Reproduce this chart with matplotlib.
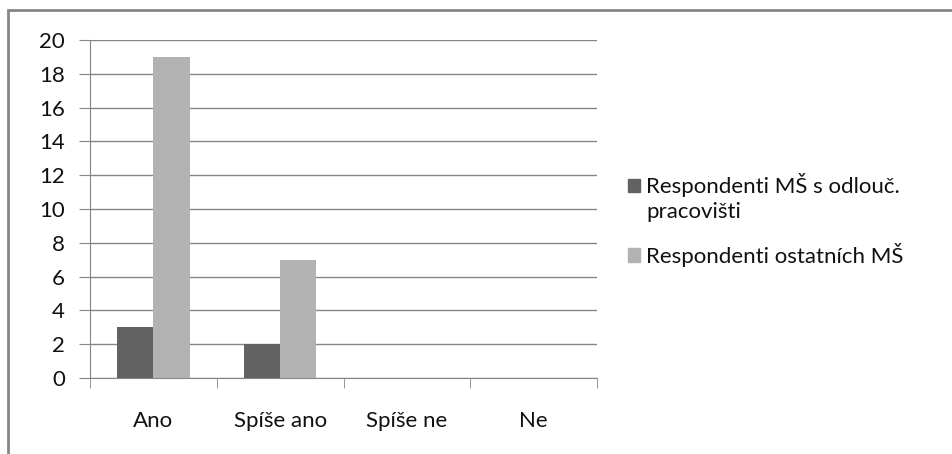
import matplotlib.pyplot as plt
import numpy as np
from matplotlib.patches import Rectangle, Patch

categories = ['Ano', 'Spíše ano', 'Spíše ne', 'Ne']
odlouc = [3, 2, 0, 0]
ostatni = [19, 7, 0, 0]
series_names = ['Respondenti MŠ s odlouč.', 'Respondenti ostatních MŠ']
name_cont = 'pracovišti'

plt.rcParams['font.family'] = ['Lato', 'DejaVu Sans']
plt.rcParams['font.size'] = 16
plt.rcParams['text.color'] = '#111111'

fig = plt.figure(figsize=(9.52, 4.54), dpi=100)
fig.patches.append(Rectangle((8 / 952, -0.1), 1.1, 1 - 10 / 454 + 0.1, transform=fig.transFigure,
                             fill=False, edgecolor='#868686', linewidth=2))
ax = fig.add_axes([90 / 952, 1 - 378 / 454, (597 - 90) / 952, (378 - 40) / 454])

x = np.arange(len(categories))
w = 0.286
ax.bar(x - w / 2, odlouc, w, color='#626262', zorder=3)
ax.bar(x + w / 2, ostatni, w, color='#b2b2b2', zorder=3)

ax.set_xlim(-0.5, len(categories) - 0.5)
ax.set_ylim(0, 20)
ax.set_yticks(range(0, 21, 2))
ax.yaxis.grid(True, color='#868686', linewidth=1)
ax.set_axisbelow(True)

ax.set_xticks(x)
ax.set_xticklabels(categories)
ax.set_xticks(np.arange(-0.5, len(categories)), minor=True)
ax.tick_params(axis='x', which='major', length=0, pad=24, colors='#111111')
ax.tick_params(axis='x', which='minor', length=7, color='#868686')
ax.tick_params(axis='y', length=8, color='#868686', colors='#111111', pad=10)

for s in ['top', 'right']:
    ax.spines[s].set_visible(False)
ax.spines['left'].set_color('#868686')
ax.spines['bottom'].set_color('#868686')

handles = [Patch(color='#626262'), Patch(color='#b2b2b2')]
fig.legend(handles, series_names, loc='center left', bbox_to_anchor=(628 / 952, 1 - 220 / 454),
           frameon=False, handlelength=0.55, handleheight=0.55, handletextpad=0.25,
           labelspacing=2.05, borderaxespad=0, borderpad=0)
fig.text(646 / 952, 1 - 212 / 454, name_cont, va='center', ha='left')

fig.savefig('out.png', dpi=100)
